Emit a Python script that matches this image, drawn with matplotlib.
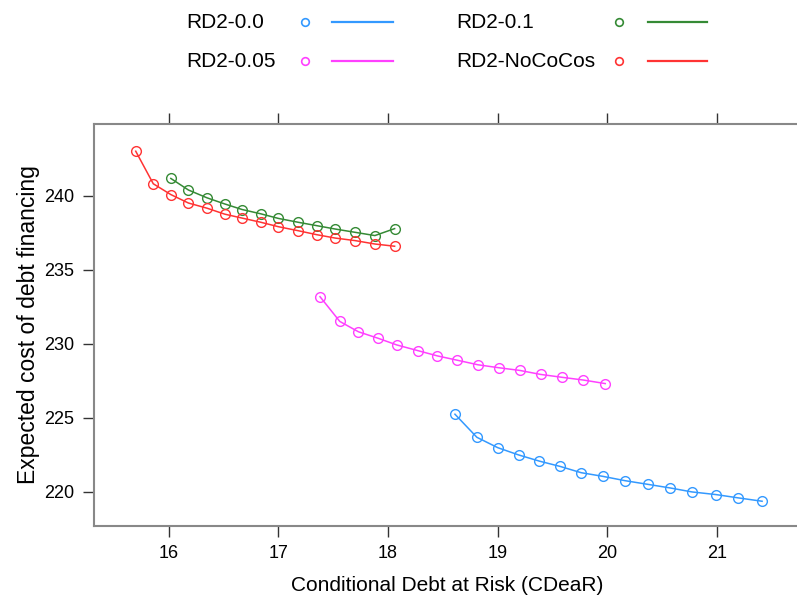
import matplotlib
matplotlib.use("Agg")
import matplotlib.pyplot as plt
from matplotlib.lines import Line2D

plt.rcParams['font.family'] = ['Liberation Sans', 'DejaVu Sans']

# series names and colours (lattice defaults, a bit lighter)
series_names = ["RD2-0.0", "RD2-0.05", "RD2-0.1", "RD2-NoCoCos"]
series_colors = ["#3399ff", "#ff40ff", "#358a35", "#ff3333"]

# CDeaR (x) and expected cost (y)
x_00 = [18.61, 18.81, 19.00, 19.19, 19.38, 19.57, 19.76, 19.96, 20.16, 20.37,
        20.57, 20.77, 20.99, 21.19, 21.41]
y_00 = [225.23, 223.67, 222.97, 222.48, 222.06, 221.70, 221.28, 221.03, 220.74,
        220.49, 220.25, 219.98, 219.80, 219.58, 219.35]

x_005 = [17.38, 17.56, 17.73, 17.91, 18.08, 18.27, 18.45, 18.63, 18.82, 19.01,
         19.20, 19.39, 19.59, 19.78, 19.98]
y_005 = [233.17, 231.50, 230.80, 230.36, 229.91, 229.53, 229.17, 228.88, 228.57,
         228.37, 228.19, 227.92, 227.72, 227.54, 227.30]

x_01 = [16.02, 16.18, 16.35, 16.51, 16.67, 16.84, 17.00, 17.18, 17.35, 17.52,
        17.70, 17.88, 18.06]
y_01 = [241.16, 240.38, 239.85, 239.44, 239.06, 238.77, 238.46, 238.20, 237.97,
        237.74, 237.52, 237.30, 237.77]

x_nococos = [15.70, 15.86, 16.02, 16.18, 16.35, 16.51, 16.67, 16.84, 17.00, 17.18,
             17.35, 17.52, 17.70, 17.88, 18.06]
y_nococos = [243.00, 240.80, 240.07, 239.50, 239.15, 238.75, 238.48, 238.20, 237.90,
             237.63, 237.36, 237.13, 236.96, 236.73, 236.58]

x_ticks = [16, 17, 18, 19, 20, 21]
y_ticks = [220, 225, 230, 235, 240]

xs = [x_00, x_005, x_01, x_nococos]
ys = [y_00, y_005, y_01, y_nococos]

fig = plt.figure(figsize=(7.97, 6.07), dpi=100)
ax = fig.add_axes([0.118, 0.134, 0.885, 0.662])

for x, y, c in zip(xs, ys, series_colors):
    ax.plot(x, y, color=c, lw=1.1, marker='o', markersize=7,
            markerfacecolor='none', markeredgecolor=c, markeredgewidth=1.0)

ax.set_xlim(15.32, 21.75)
ax.set_ylim(217.7, 244.85)
ax.set_xticks(x_ticks)
ax.set_yticks(y_ticks)
ax.tick_params(direction='out', length=8, width=1, color='#333333',
               labelsize=13, top=True, labeltop=False, right=True, labelright=False,
               pad=6)
for s in ax.spines.values():
    s.set_color('#888888')
    s.set_linewidth(1.5)

ax.set_xlabel("Conditional Debt at Risk (CDeaR)", fontsize=15, labelpad=10)
ax.set_ylabel("Expected cost of debt financing", fontsize=16.5, labelpad=3)

# lattice style key above the panel: text, point, line
key_cols = [(0.234, 0.383, 0.417, 0.493), (0.572, 0.777, 0.813, 0.887)]
key_rows = [0.963, 0.899]
for i, (name, c) in enumerate(zip(series_names, series_colors)):
    col = key_cols[i // 2]
    yk = key_rows[i % 2]
    fig.text(col[0], yk, name, fontsize=15, va='center', ha='left')
    fig.add_artist(Line2D([col[1]], [yk], transform=fig.transFigure, marker='o',
                          markersize=5.5, markerfacecolor='none', markeredgecolor=c,
                          markeredgewidth=1.2, linestyle='none'))
    fig.add_artist(Line2D([col[2], col[3]], [yk, yk], transform=fig.transFigure,
                          color=c, lw=1.6))

fig.savefig("out.png", dpi=100)
